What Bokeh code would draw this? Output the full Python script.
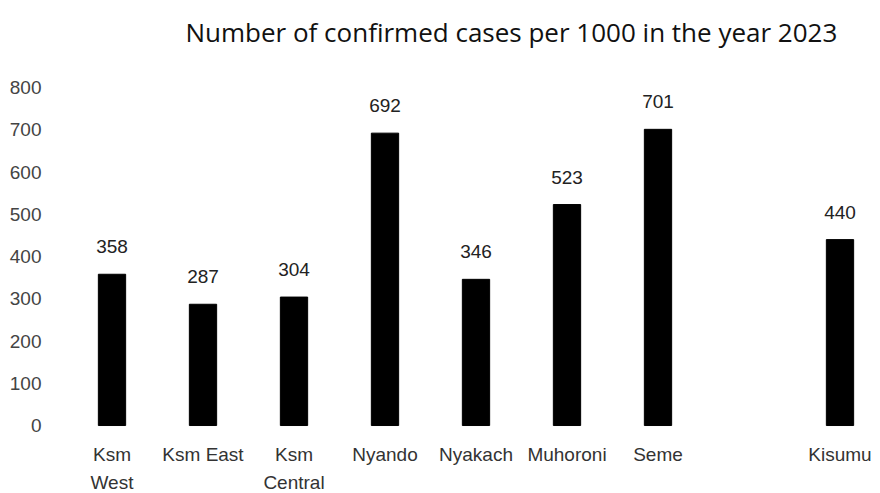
from bokeh.plotting import figure
from bokeh.models import Range1d, FixedTicker, ColumnDataSource
from bokeh.core.properties import value
from bokeh.embed import file_html
from bokeh.resources import INLINE

title_text = "Number of confirmed cases per 1000 in the year 2023"
categories = ["Ksm\nWest", "Ksm East", "Ksm\nCentral", "Nyando", "Nyakach", "Muhoroni", "Seme", "Kisumu"]
slots = [0, 1, 2, 3, 4, 5, 6, 8]
cases = [358, 287, 304, 692, 346, 523, 701, 440]
y_ticks = [0, 100, 200, 300, 400, 500, 600, 700, 800]

src = ColumnDataSource(dict(x=slots, top=cases, base=[0] * len(slots),
                            lab=[str(v) for v in cases], cat=categories))

p = figure(width=880, height=493, output_backend="svg", toolbar_location=None,
           x_range=Range1d(-0.5, 8.445), y_range=Range1d(-160.9, 887.6),
           min_border_left=66, min_border_right=0, min_border_top=50, min_border_bottom=0)

p.vbar(x="x", top="top", bottom=0, width=0.3, color="black", source=src)
p.text(x="x", y="top", text="lab", text_align="center", text_baseline="bottom",
       y_offset=-21, text_font=value("Liberation Sans"), text_font_size="19px",
       text_color="#222222", source=src)

# category labels below the bars
p.text(x="x", y="base", text="cat", text_align="center", text_baseline="top",
       y_offset=18, text_font=value("Liberation Sans"), text_font_size="19px",
       text_color="#333333", text_line_height=1.35, source=src)

p.title.text = title_text
p.title.text_font = "Open Sans"
p.title.text_font_style = "normal"
p.title.text_font_size = "26px"
p.title.text_color = "#111111"
p.title.align = "left"
p.title.offset = 119
p.title.standoff = 2

p.xaxis.visible = False
p.yaxis.ticker = FixedTicker(ticks=y_ticks)
p.yaxis.axis_line_color = None
p.yaxis.major_tick_line_color = None
p.yaxis.minor_tick_line_color = None
p.yaxis.major_label_text_font = "Liberation Sans"
p.yaxis.major_label_text_font_size = "19px"
p.yaxis.major_label_text_color = "#444444"
p.yaxis.major_label_standoff = 19
p.grid.visible = False
p.outline_line_color = None

open("out.html", "w").write(file_html(p, INLINE))
